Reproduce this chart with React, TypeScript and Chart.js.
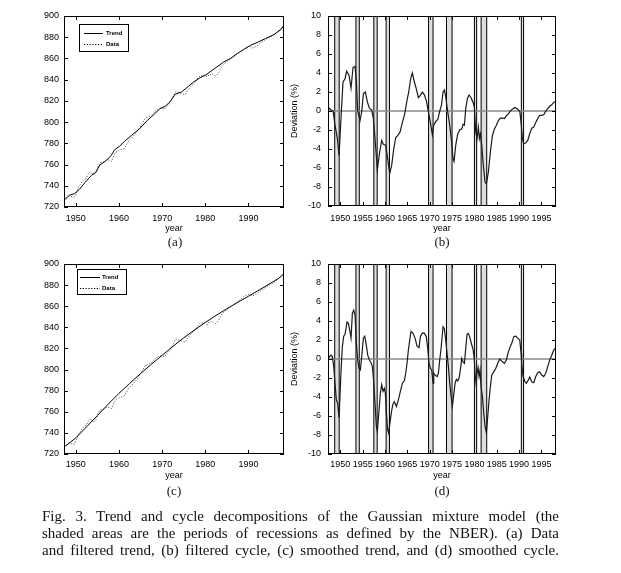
import React, { useEffect, useRef } from "react";
import { Chart, registerables } from "chart.js";

Chart.register(...registerables);

// ---------- data ----------
const X_MIN = 1947.25;
const X_MAX = 1998.25;

const levelTicks = [720, 740, 760, 780, 800, 820, 840, 860, 880, 900];
const cycleTicks = [-10, -8, -6, -4, -2, 0, 2, 4, 6, 8, 10];
const decadeTicks = [1950, 1960, 1970, 1980, 1990];
const fiveYearTicks = [1950, 1955, 1960, 1965, 1970, 1975, 1980, 1985, 1990, 1995];

// NBER recessions (peak quarter, trough quarter)
const recessionStarts = [1948.75, 1953.5, 1957.5, 1960.25, 1969.75, 1973.75, 1980.0, 1981.5, 1990.5];
const recessionEnds = [1949.75, 1954.25, 1958.25, 1961.0, 1970.75, 1975.0, 1980.5, 1982.75, 1991.0];

// filtered cycle (b) and data sample years
const cycleBYears = [
  1947.25, 1947.85, 1948.38, 1948.82, 1949.35, 1949.72, 1950.24, 1950.61, 1951.06, 1951.43,
  1951.96, 1952.4, 1952.85, 1953.3, 1953.6, 1953.89, 1954.42, 1954.79, 1955.16, 1955.61,
  1956.06, 1956.5, 1957.02, 1957.4, 1957.77, 1958.29, 1958.81, 1959.26, 1959.63, 1960.15,
  1960.6, 1961.05, 1961.5, 1961.95, 1962.4, 1962.84, 1963.37, 1963.89, 1964.41, 1964.86,
  1965.3, 1965.75, 1966.12, 1966.57, 1967.02, 1967.46, 1967.91, 1968.36, 1968.8, 1969.25,
  1969.7, 1970.15, 1970.6, 1970.9, 1971.35, 1971.8, 1972.25, 1972.62, 1972.99, 1973.28,
  1973.58, 1974.03, 1974.48, 1974.92, 1975.22, 1975.45, 1975.82, 1976.27, 1976.71, 1977.16,
  1977.46, 1977.76, 1978.06, 1978.43, 1978.8, 1979.25, 1979.7, 1979.99, 1980.29, 1980.59,
  1980.89, 1981.11, 1981.34, 1981.64, 1981.93, 1982.38, 1982.68, 1983.13, 1983.57, 1984.02,
  1984.47, 1984.92, 1985.36, 1985.81, 1986.26, 1986.71, 1987.15, 1987.6, 1988.05, 1988.5,
  1988.94, 1989.39, 1989.84, 1990.14, 1990.44, 1990.73, 1991.03, 1991.48, 1991.93, 1992.37,
  1992.82, 1993.27, 1993.72, 1994.16, 1994.61, 1995.06, 1995.51, 1995.95, 1996.4, 1996.85,
  1997.3, 1997.74, 1998.19,
];
const cycleBValues = [
  0.4, 0.14, 0.0, -1.5, -2.9, -4.7, 0.0, 3.05, 3.4, 4.2,
  3.75, 2.4, 4.6, 4.7, 3.0, 0.0, -1.0, -0.1, 1.8, 2.0,
  0.95, 0.3, 0.1, -0.8, -2.9, -6.2, -4.3, -3.1, -3.5, -3.6,
  -5.0, -6.6, -5.7, -4.0, -2.8, -2.6, -2.2, -1.2, -0.3, 0.95,
  2.0, 3.4, 4.0, 3.05, 2.3, 1.4, 1.65, 2.0, 1.7, 1.1,
  -0.1, -1.2, -2.5, -1.5, -1.1, -0.9, 0.0, 0.6, 2.0, 2.2,
  1.5, -0.1, -1.5, -3.3, -5.0, -5.3, -3.6, -2.4, -2.0, -1.9,
  -1.4, -1.5, 0.25, 1.3, 1.7, 1.4, 0.9, 0.4, -2.2, -2.9,
  -1.7, -2.9, -2.4, -3.6, -5.4, -7.5, -7.65, -6.4, -4.3, -2.6,
  -1.9, -1.5, -1.0, -0.75, -0.75, -0.8, -0.5, -0.3, 0.0, 0.2,
  0.35, 0.3, 0.1, 0.0, -1.2, -2.9, -3.45, -3.35, -3.1, -2.4,
  -1.8, -1.7, -1.2, -0.8, -0.45, -0.45, -0.4, 0.0, 0.25, 0.5,
  0.65, 0.9, 1.0,
];

// observed series (Data)
const dataYears = cycleBYears;
const dataValues = [
  726.8, 728.8, 730.6, 729.9, 729.2, 729.5, 734.5, 738.9, 741.2, 743.9,
  746.2, 746.8, 751.0, 753.2, 752.8, 750.6, 751.2, 753.6, 758.4, 761.6,
  761.9, 762.5, 763.9, 764.5, 763.9, 763.1, 768.4, 771.7, 772.3, 773.8,
  774.1, 774.3, 776.9, 780.2, 783.0, 784.7, 786.9, 789.6, 792.2, 795.0,
  798.1, 801.5, 803.7, 804.7, 805.5, 806.2, 808.1, 810.2, 811.6, 812.8,
  813.0, 812.7, 812.2, 814.1, 816.2, 818.1, 821.7, 824.5, 828.1, 828.8,
  828.6, 827.6, 826.9, 826.5, 825.8, 826.3, 829.3, 832.0, 833.9, 835.5,
  836.9, 837.6, 840.2, 842.2, 843.6, 844.1, 844.5, 844.5, 842.7, 842.9,
  845.0, 844.4, 845.6, 845.3, 844.3, 843.6, 844.3, 846.9, 850.3, 853.3,
  855.2, 856.5, 858.0, 859.2, 860.5, 861.8, 863.4, 864.8, 866.2, 867.6,
  868.9, 869.9, 870.9, 871.5, 871.1, 869.9, 869.9, 870.8, 871.8, 873.3,
  874.8, 875.7, 877.1, 878.3, 879.5, 880.4, 881.3, 882.5, 884.1, 885.7,
  887.2, 889.2, 891.3,
];

// filtered trend (a)
const trendAYears = [
  1947.25, 1948.5, 1949.7, 1950.85, 1952, 1953.6, 1954.7, 1955.5, 1957.1, 1958.2,
  1959, 1960.2, 1961.3, 1962.9, 1964.8, 1966.4, 1967.9, 1969.5, 1970.7, 1971.8,
  1973, 1974.5, 1976.1, 1977.3, 1978.8, 1980, 1981.1, 1982.7, 1984.3, 1985.8,
  1987.4, 1988.9, 1990.5, 1992, 1994, 1995.9, 1997.5, 1998.25,
];
const trendAValues = [
  726.3, 731, 732.6, 736.7, 742.6, 749.8, 753, 759.3, 764, 768.7,
  774, 777.5, 781.9, 787.5, 793.8, 801, 806.4, 812.7, 814.9, 819,
  826.2, 828.4, 833.8, 837.9, 841.9, 844.1, 847.3, 852, 856.7, 859.9,
  864.6, 868.4, 872.4, 875, 878.8, 882.4, 887.1, 891.5,
];

// smoothed trend (c)
const trendCYears = [
  1947.25, 1950, 1952.5, 1955, 1957.5, 1960, 1962.5, 1965, 1967.5, 1970,
  1972.5, 1975, 1977.5, 1980, 1982.5, 1985, 1987.5, 1990, 1992.5, 1995,
  1997, 1998.25,
];
const trendCValues = [
  726.5, 735.3, 745.8, 756.5, 767.2, 777.5, 787, 796.2, 805, 813.5,
  822, 830, 837.5, 844.6, 851.3, 857.6, 863.6, 869.4, 875.4, 881.4,
  886.4, 890.8,
];

// smoothed cycle (d)
const cycleDYears = [
  1947.25, 1947.48, 1947.93, 1948.23, 1948.53, 1948.82, 1949.12, 1949.42, 1949.72, 1950.17,
  1950.46, 1950.76, 1951.06, 1951.51, 1951.81, 1952.1, 1952.4, 1952.7, 1953.0, 1953.3,
  1953.6, 1953.89, 1954.19, 1954.49, 1954.79, 1955.16, 1955.46, 1955.76, 1956.14, 1956.51,
  1956.88, 1957.18, 1957.48, 1957.77, 1958.07, 1958.29, 1958.67, 1958.96, 1959.26, 1959.56,
  1959.86, 1960.08, 1960.3, 1960.6, 1960.82, 1961.2, 1961.5, 1961.8, 1962.1, 1962.55,
  1962.99, 1963.44, 1963.89, 1964.34, 1964.63, 1964.93, 1965.23, 1965.53, 1965.82, 1966.27,
  1966.72, 1967.17, 1967.61, 1967.91, 1968.36, 1968.8, 1969.25, 1969.55, 1969.85, 1970.15,
  1970.45, 1970.75, 1970.9, 1971.2, 1971.65, 1971.94, 1972.24, 1972.54, 1972.99, 1973.28,
  1973.58, 1973.88, 1974.18, 1974.48, 1974.78, 1975.07, 1975.37, 1975.67, 1975.97, 1976.27,
  1976.57, 1976.86, 1977.16, 1977.46, 1977.76, 1978.06, 1978.35, 1978.65, 1978.95, 1979.4,
  1979.7, 1979.99, 1980.14, 1980.37, 1980.59, 1980.82, 1981.04, 1981.26, 1981.49, 1981.79,
  1982.08, 1982.38, 1982.68, 1982.98, 1983.28, 1983.57, 1983.87, 1984.32, 1984.77, 1985.22,
  1985.66, 1986.26, 1986.71, 1987.15, 1987.6, 1988.05, 1988.35, 1988.8, 1989.24, 1989.69,
  1990.14, 1990.44, 1990.58, 1990.88, 1991.33, 1991.63, 1992.08, 1992.37, 1992.82, 1993.27,
  1993.72, 1994.16, 1994.61, 1995.06, 1995.51, 1995.95, 1996.4, 1996.85, 1997.3, 1997.74,
  1998.19,
];
const cycleDValues = [
  -0.2, 0.2, 0.4, 0.25, -0.8, -2.6, -4.3, -4.7, -6.2, -1.2,
  1.3, 2.4, 2.6, 3.9, 3.75, 3.05, 2.2, 4.8, 5.15, 4.6,
  1.65, -0.1, -1.0, -1.15, 0.25, 2.2, 2.4, 1.65, 0.4, -0.1,
  -0.4, -0.8, -2.4, -4.7, -7.1, -7.6, -5.4, -3.6, -2.7, -3.4,
  -3.1, -3.6, -5.7, -7.5, -7.8, -6.4, -5.4, -4.7, -4.5, -5.0,
  -4.3, -3.4, -2.55, -2.3, -1.5, -0.45, 0.95, 2.0, 2.9, 2.7,
  2.2, 1.35, 1.2, 2.35, 2.75, 2.7, 2.35, 1.1, -0.45, -1.0,
  -1.15, -2.55, -1.5, -1.7, -1.85, -1.5, -0.1, 1.1, 3.4, 3.2,
  2.0, 0.6, -0.8, -2.55, -3.95, -4.95, -3.8, -2.55, -2.15, -2.3,
  -2.0, -1.15, 0.05, -0.3, -0.45, 1.1, 2.6, 2.7, 2.3, 1.5,
  1.0, -0.1, -1.5, -2.55, -1.5, -0.9, -1.85, -1.15, -2.9, -3.95,
  -5.7, -7.1, -7.8, -6.05, -4.3, -2.9, -1.7, -1.35, -1.0, -0.45,
  0.0, -0.3, -0.45, -0.1, 0.75, 1.35, 1.65, 2.35, 2.4, 2.2,
  2.0, 0.6, -0.45, -1.85, -2.4, -2.55, -2.2, -1.9, -2.4, -2.5,
  -1.85, -1.45, -1.35, -1.7, -1.85, -1.5, -0.8, -0.1, 0.4, 0.95,
  1.2,
];

const captionLines = [
  "Fig. 3.  Trend and cycle decompositions of the Gaussian mixture model (the",
  "shaded areas are the periods of recessions as defined by the NBER). (a) Data",
  "and filtered trend, (b) filtered cycle, (c) smoothed trend, and (d) smoothed cycle.",
];

// ---------- drawing helpers ----------
const SANS = "'Liberation Sans', Arial, Helvetica, sans-serif";
const SERIF = "'Liberation Serif', 'Times New Roman', serif";

const toPoints = (xs: number[], ys: number[]) => xs.map((x, i) => ({ x, y: ys[i] }));

const decorPlugin = {
  id: "panelDecor",
  beforeDatasetsDraw(chart: any, _args: any, opts: any) {
    if (!opts || !opts.bands) return;
    const { ctx, chartArea: area, scales } = chart;
    const xs = scales.x;
    ctx.save();
    ctx.beginPath();
    ctx.rect(area.left, area.top, area.right - area.left, area.bottom - area.top);
    ctx.clip();
    recessionStarts.forEach((s, i) => {
      const x0 = xs.getPixelForValue(s);
      const x1 = xs.getPixelForValue(recessionEnds[i]);
      ctx.fillStyle = "#dedede";
      ctx.fillRect(x0, area.top, x1 - x0, area.bottom - area.top);
      ctx.strokeStyle = "#000";
      ctx.lineWidth = 1;
      ctx.beginPath();
      ctx.moveTo(x0, area.top);
      ctx.lineTo(x0, area.bottom);
      ctx.moveTo(x1, area.top);
      ctx.lineTo(x1, area.bottom);
      ctx.stroke();
    });
    ctx.restore();
  },
  afterDatasetsDraw(chart: any, _args: any, opts: any) {
    const { ctx, chartArea: area, scales } = chart;
    const xs = scales.x;
    const ys = scales.y;
    ctx.save();
    ctx.strokeStyle = "#000";
    ctx.lineWidth = 1;
    ctx.strokeRect(area.left + 0.5, area.top + 0.5, area.right - area.left - 1, area.bottom - area.top - 1);
    const L = 4;
    ctx.beginPath();
    xs.ticks.forEach((t: any) => {
      const p = Math.round(xs.getPixelForValue(t.value)) + 0.5;
      ctx.moveTo(p, area.bottom);
      ctx.lineTo(p, area.bottom - L);
      ctx.moveTo(p, area.top);
      ctx.lineTo(p, area.top + L);
    });
    ys.ticks.forEach((t: any) => {
      const p = Math.round(ys.getPixelForValue(t.value)) + 0.5;
      ctx.moveTo(area.left, p);
      ctx.lineTo(area.left + L, p);
      ctx.moveTo(area.right, p);
      ctx.lineTo(area.right - L, p);
    });
    ctx.stroke();

    const lg = opts && opts.legend;
    if (lg) {
      const bx = area.left + lg.left;
      const by = area.top + lg.top;
      ctx.fillStyle = "#fff";
      ctx.fillRect(bx, by, lg.width, lg.height);
      ctx.strokeStyle = "#000";
      ctx.lineWidth = 1;
      ctx.strokeRect(bx + 0.5, by + 0.5, lg.width, lg.height);
      ctx.font = `bold 6px ${SANS}`;
      ctx.textBaseline = "middle";
      ctx.textAlign = "left";
      const rows = [lg.row1, lg.row2];
      chart.data.datasets.slice(0, 2).forEach((ds: any, i: number) => {
        const ry = Math.round(by + rows[i]) + 0.5;
        ctx.strokeStyle = "#000";
        ctx.lineWidth = 1;
        ctx.setLineDash(ds.borderDash || []);
        ctx.beginPath();
        ctx.moveTo(bx + lg.lineStart, ry);
        ctx.lineTo(bx + lg.lineEnd, ry);
        ctx.stroke();
        ctx.setLineDash([]);
        ctx.fillStyle = "#000";
        ctx.fillText(ds.label, bx + lg.textX, ry);
      });
    }
    ctx.restore();
  },
};

type PanelOpts = {
  kind: "level" | "cycle";
  trendYears?: number[];
  trendValues?: number[];
  cycleYears?: number[];
  cycleValues?: number[];
  xTicks: number[];
  yWidth: number;
  xHeight: number;
  padTop: number;
  padRight: number;
  tickPadX: number;
  tickPadY: number;
  titlePadBottom: number;
  legend?: any;
};

function buildConfig(p: PanelOpts): any {
  const tickFont = { family: SANS, size: 9 };
  const isLevel = p.kind === "level";
  const yTickVals = isLevel ? levelTicks : cycleTicks;
  const datasets: any[] = isLevel
    ? [
        {
          label: "Trend",
          data: toPoints(p.trendYears!, p.trendValues!),
          borderColor: "#000",
          borderWidth: 1,
          pointRadius: 0,
          tension: 0,
        },
        {
          label: "Data",
          data: toPoints(dataYears, dataValues),
          borderColor: "#5a5a5a",
          borderWidth: 1,
          borderDash: [1.2, 1.6],
          pointRadius: 0,
          tension: 0,
        },
      ]
    : [
        {
          label: "Cycle",
          data: toPoints(p.cycleYears!, p.cycleValues!),
          borderColor: "#1a1a1a",
          borderWidth: 1.2,
          pointRadius: 0,
          tension: 0,
        },
        {
          label: "zero",
          data: [
            { x: X_MIN, y: 0 },
            { x: X_MAX, y: 0 },
          ],
          borderColor: "#8a8a8a",
          borderWidth: 1.5,
          pointRadius: 0,
        },
      ];
  return {
    type: "line",
    data: { datasets },
    plugins: [decorPlugin],
    options: {
      animation: false,
      responsive: false,
      events: [],
      layout: { padding: { left: 0, top: p.padTop, right: p.padRight, bottom: 0 } },
      plugins: {
        legend: { display: false },
        tooltip: { enabled: false },
        panelDecor: { bands: !isLevel, legend: p.legend },
      },
      scales: {
        x: {
          type: "linear",
          min: X_MIN,
          max: X_MAX,
          afterBuildTicks: (s: any) => {
            s.ticks = p.xTicks.map((v) => ({ value: v }));
          },
          afterFit: (s: any) => {
            s.height = p.xHeight;
          },
          grid: { display: false, drawTicks: false },
          border: { display: false },
          ticks: {
            color: "#000",
            font: tickFont,
            padding: p.tickPadX,
            autoSkip: false,
            maxRotation: 0,
            callback: (v: any) => String(v),
          },
          title: {
            display: true,
            text: "year",
            color: "#000",
            font: tickFont,
            padding: { top: 0, bottom: p.titlePadBottom },
          },
        },
        y: {
          type: "linear",
          min: isLevel ? 720 : -10,
          max: isLevel ? 900 : 10,
          afterBuildTicks: (s: any) => {
            s.ticks = yTickVals.map((v) => ({ value: v }));
          },
          afterFit: (s: any) => {
            s.width = p.yWidth;
          },
          grid: { display: false, drawTicks: false },
          border: { display: false },
          ticks: {
            color: "#000",
            font: tickFont,
            padding: p.tickPadY,
            autoSkip: false,
            callback: (v: any) => String(v),
          },
          title: isLevel
            ? { display: false }
            : {
                display: true,
                text: "Deviation (%)",
                color: "#000",
                font: tickFont,
                padding: { top: 5, bottom: 0 },
              },
        },
      },
    },
  };
}

function Panel(props: { left: number; top: number; width: number; height: number; opts: PanelOpts }) {
  const ref = useRef<HTMLCanvasElement>(null);
  useEffect(() => {
    if (!ref.current) return;
    const chart = new Chart(ref.current, buildConfig(props.opts));
    return () => chart.destroy();
  }, []);
  return (
    <canvas
      ref={ref}
      width={props.width}
      height={props.height}
      style={{ position: "absolute", left: props.left, top: props.top, width: props.width, height: props.height }}
    />
  );
}

const letterStyle = (x: number, y: number): React.CSSProperties => ({
  position: "absolute",
  left: x,
  top: y,
  transform: "translate(-50%, -50%)",
  fontFamily: SERIF,
  fontSize: 13,
  color: "#111",
  lineHeight: 1,
});

export default function App() {
  const panelA: PanelOpts = {
    kind: "level",
    trendYears: trendAYears,
    trendValues: trendAValues,
    xTicks: decadeTicks,
    yWidth: 64,
    xHeight: 43,
    padTop: 16,
    padRight: 4,
    tickPadX: 6,
    tickPadY: 5,
    titlePadBottom: 16,
    legend: { left: 15, top: 8, width: 49, height: 27, row1: 8.5, row2: 19.5, lineStart: 5, lineEnd: 24, textX: 27 },
  };
  const panelB: PanelOpts = {
    kind: "cycle",
    cycleYears: cycleBYears,
    cycleValues: cycleBValues,
    xTicks: fiveYearTicks,
    yWidth: 44,
    xHeight: 44,
    padTop: 16,
    padRight: 65,
    tickPadX: 7,
    tickPadY: 7,
    titlePadBottom: 16,
  };
  const panelC: PanelOpts = {
    kind: "level",
    trendYears: trendCYears,
    trendValues: trendCValues,
    xTicks: decadeTicks,
    yWidth: 64,
    xHeight: 46,
    padTop: 14,
    padRight: 4,
    tickPadX: 5,
    tickPadY: 5,
    titlePadBottom: 19,
    legend: { left: 13, top: 5, width: 49, height: 25, row1: 7.7, row2: 19.3, lineStart: 3, lineEnd: 23, textX: 25 },
  };
  const panelD: PanelOpts = {
    kind: "cycle",
    cycleYears: cycleDYears,
    cycleValues: cycleDValues,
    xTicks: fiveYearTicks,
    yWidth: 44,
    xHeight: 46,
    padTop: 14,
    padRight: 65,
    tickPadX: 5,
    tickPadY: 7,
    titlePadBottom: 19,
  };
  return (
    <div style={{ position: "absolute", left: 0, top: 0, width: 621, height: 573, background: "#fff", overflow: "hidden" }}>
      <Panel left={0} top={0} width={288} height={250} opts={panelA} />
      <Panel left={284} top={0} width={337} height={250} opts={panelB} />
      <Panel left={0} top={250} width={288} height={250} opts={panelC} />
      <Panel left={284} top={250} width={337} height={250} opts={panelD} />
      <div style={letterStyle(175, 241)}>(a)</div>
      <div style={letterStyle(442, 241)}>(b)</div>
      <div style={letterStyle(174, 490)}>(c)</div>
      <div style={letterStyle(442, 490)}>(d)</div>
      <div
        style={{
          position: "absolute",
          left: 42,
          top: 508,
          width: 517,
          fontFamily: SERIF,
          fontSize: 15,
          lineHeight: "17px",
          color: "#111",
        }}
      >
        {captionLines.map((line, i) => (
          <div key={i} style={{ textAlign: "justify", textAlignLast: "justify", height: 17 }}>
            {line}
          </div>
        ))}
      </div>
    </div>
  );
}
